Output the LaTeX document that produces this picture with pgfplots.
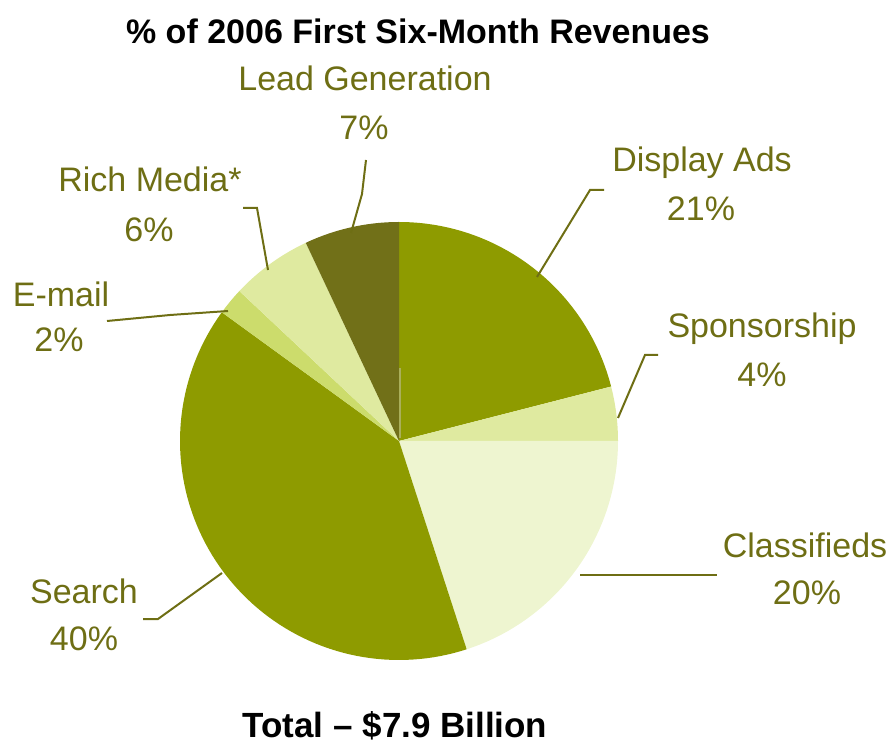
\documentclass[border=0pt]{standalone}
\usepackage{pgfplots}
\pgfplotsset{compat=1.18}
\usepackage{fontspec}
\setmainfont{Liberation Sans}
\definecolor{cOlive}{RGB}{142,155,0}
\definecolor{cLight}{RGB}{223,234,160}
\definecolor{cPale}{RGB}{238,245,208}
\definecolor{cMail}{RGB}{204,220,108}
\definecolor{cDark}{RGB}{113,112,24}
\definecolor{cLab}{RGB}{110,110,20}
\definecolor{cArt}{RGB}{170,175,90}
\newcommand\cx{399}
\newcommand\cy{303}
\newcommand\rr{219}
% slice from cumulative percent #1 to #2, clockwise from 12 o'clock
\newcommand\slice[3]{%
  \addplot[fill=#3, draw=none, domain={90-3.6*(#2)}:{90-3.6*(#1)}, samples=80]
    ({\cx+\rr*cos(x)},{\cy+\rr*sin(x)}) -- (axis cs:\cx,\cy) -- cycle;}
\newcommand\lab[3]{\node[anchor=base, inner sep=0pt, text=cLab, font=\fontsize{34}{40}\selectfont] at (axis cs:#1,#2) {#3};}
\begin{document}
\begin{tikzpicture}
\begin{axis}[width=893pt, height=744pt, scale only axis,
  xmin=0, xmax=893, ymin=0, ymax=744, hide axis, clip=false]
\path (rel axis cs:0,0) rectangle (rel axis cs:1,1);
% percentages: Display Ads 21, Sponsorship 4, Classifieds 20, Search 40, E-mail 2, Rich Media 6, Lead Generation 7
\slice{0}{21}{cOlive}
\slice{21}{25}{cLight}
\slice{25}{45}{cPale}
\slice{45}{85}{cOlive}
\slice{85}{87}{cMail}
\slice{87}{93}{cLight}
\slice{93}{100}{cDark}
% thin artifact line
\addplot[cArt, line width=1.5pt] coordinates {(400,376) (400,306)};
% leader lines
\addplot[cLab, line width=2pt] coordinates {(604,554) (590,554) (537,467)};
\addplot[cLab, line width=2pt] coordinates {(658,389) (645,389) (618,326)};
\addplot[cLab, line width=2pt] coordinates {(580,169) (717,169)};
\addplot[cLab, line width=2pt] coordinates {(143,125) (158,125) (222,171)};
\addplot[cLab, line width=2pt] coordinates {(107,423) (170,429) (228,433)};
\addplot[cLab, line width=2pt] coordinates {(243,536) (257,536) (268,474)};
\addplot[cLab, line width=2pt] coordinates {(366,584) (362,550) (351,511)};
% labels
\lab{365}{653}{Lead Generation}
\lab{364}{604}{7\%}
\lab{150}{552}{Rich Media*}
\lab{149}{502}{6\%}
\lab{61}{437}{E-mail}
\lab{59}{392}{2\%}
\lab{702}{572}{Display Ads}
\lab{701}{523}{21\%}
\lab{762}{406}{Sponsorship}
\lab{762}{357}{4\%}
\lab{805}{186}{Classifieds}
\lab{807}{140}{20\%}
\lab{84}{141}{Search}
\lab{84}{94}{40\%}
\node[anchor=base, inner sep=0pt, font=\bfseries\fontsize{34}{40}\selectfont] at (axis cs:418,700) {\% of 2006 First Six-Month Revenues};
\node[anchor=base, inner sep=0pt, font=\bfseries\fontsize{35}{40}\selectfont] at (axis cs:395,7) {Total -- \$7.9 Billion};
\end{axis}
\end{tikzpicture}
\end{document}
